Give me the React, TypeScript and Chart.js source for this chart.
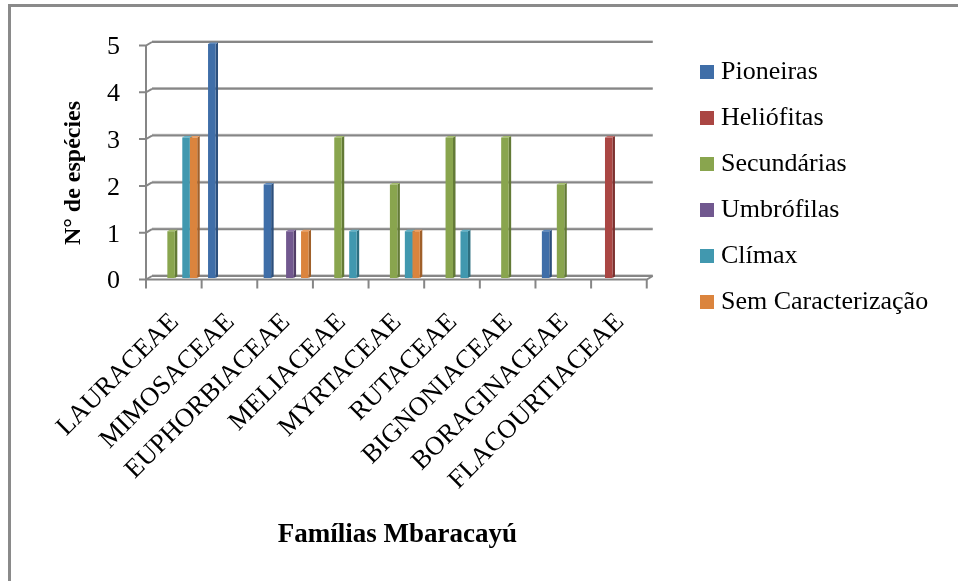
import React, { useEffect, useRef } from "react";
import { Chart, registerables } from "chart.js";

Chart.register(...registerables);

const families = ["LAURACEAE", "MIMOSACEAE", "EUPHORBIACEAE", "MELIACEAE", "MYRTACEAE", "RUTACEAE", "BIGNONIACEAE", "BORAGINACEAE", "FLACOURTIACEAE"];
const pioneiras = [0, 5, 2, 0, 0, 0, 0, 1, 0];
const heliofitas = [0, 0, 0, 0, 0, 0, 0, 0, 3];
const secundarias = [1, 0, 0, 3, 2, 3, 3, 2, 0];
const umbrofilas = [0, 0, 1, 0, 0, 0, 0, 0, 0];
const climax = [3, 0, 0, 1, 1, 1, 0, 0, 0];
const semCaracterizacao = [3, 0, 1, 0, 1, 0, 0, 0, 0];
const seriesNames = ["Pioneiras", "Heliófitas", "Secundárias", "Umbrófilas", "Clímax", "Sem Caracterização"];
const seriesValues = [pioneiras, heliofitas, secundarias, umbrofilas, climax, semCaracterizacao];
const fronts = ["#3F6EA8", "#AA4643", "#89A54E", "#71588F", "#4198AF", "#DB843D"];
const sides = ["#2C4F7C", "#7C302E", "#637A36", "#513E68", "#2D6F80", "#A0602A"];
const caps = ["#5F8ABD", "#C26A67", "#A3BC6C", "#8F77AB", "#63B2C8", "#EBA066"];
const FONT = "'Liberation Serif', serif";

const chrome = {
  id: "chrome",
  afterLayout(chart: any) {
    if (chart.legend) {
      chart.legend.left = 686;
      chart.legend.right = 958;
      chart.legend.top = 39;
    }
  },
  beforeDraw(chart: any) {
    const { ctx, width, height } = chart;
    ctx.save();
    ctx.fillStyle = "#fff";
    ctx.fillRect(0, 0, width, height);
    ctx.fillStyle = "#8a8a8a";
    ctx.fillRect(8, 4, width - 8, 3);
    ctx.fillRect(8, 4, 3, height - 4);
    ctx.restore();
    chart.scales.y.getLabelItems().forEach((item: any) => {
      item.options.translation[1] += 3.5;
    });
  },
  beforeDatasetsDraw(chart: any) {
    const { ctx, scales } = chart;
    const xs = scales.x;
    const ys = scales.y;
    const left = xs.left - 1;
    const right = xs.right - 1;
    const dx = 6;
    const axisY = (v: number) => ys.getPixelForValue(v) + 1.5;
    const wallY = (v: number) => ys.getPixelForValue(v) - 2;
    ctx.save();
    ctx.lineCap = "butt";
    const strokeLine = (pts: number[][], color: string, w: number) => {
      ctx.strokeStyle = color;
      ctx.lineWidth = w;
      ctx.beginPath();
      pts.forEach((p, i) => (i ? ctx.lineTo(p[0], p[1]) : ctx.moveTo(p[0], p[1])));
      ctx.stroke();
    };
    for (const t of ys.ticks) {
      const v = t.value;
      strokeLine([[left + dx, wallY(v) - 1], [right + dx, wallY(v) - 1]], "#c4c4c4", 1.5);
      strokeLine([[left + dx, wallY(v)], [right + dx, wallY(v)]], "#868686", 2);
      strokeLine([[left - 7, axisY(v)], [left, axisY(v)], [left + dx, wallY(v)]], "#868686", 2);
    }
    strokeLine([[left, axisY(0)], [right, axisY(0)], [right + dx, wallY(0)]], "#868686", 2);
    strokeLine([[left, axisY(5)], [left, axisY(0)]], "#868686", 2);
    for (let i = 0; i <= families.length; i++) {
      const x = left + ((right - left) * i) / families.length;
      strokeLine([[x, axisY(0)], [x, axisY(0) + 9]], "#868686", 2);
    }
    chart.data.datasets.forEach((_: any, di: number) => {
      chart.getDatasetMeta(di).data.forEach((el: any, i: number) => {
        if (!seriesValues[di][i]) return;
        const { x, y, base, width } = el.getProps(["x", "y", "base", "width"], true);
        const r = x + width / 2;
        const l = x - width / 2;
        ctx.fillStyle = sides[di];
        ctx.beginPath();
        ctx.moveTo(r, y);
        ctx.lineTo(r + 2.5, y - 1.5);
        ctx.lineTo(r + 2.5, base - 1.5);
        ctx.lineTo(r, base);
        ctx.closePath();
        ctx.fill();
        ctx.fillStyle = caps[di];
        ctx.beginPath();
        ctx.moveTo(l, y);
        ctx.lineTo(l + 2.5, y - 1.5);
        ctx.lineTo(r + 2.5, y - 1.5);
        ctx.lineTo(r, y);
        ctx.closePath();
        ctx.fill();
      });
    });
    ctx.restore();
  },
};

export default function App() {
  const ref = useRef<HTMLCanvasElement>(null);
  useEffect(() => {
    const chart = new Chart(ref.current as HTMLCanvasElement, {
      type: "bar",
      data: {
        labels: families,
        datasets: seriesNames.map((name, i) => ({
          label: name,
          data: seriesValues[i],
          backgroundColor: fronts[i],
          categoryPercentage: 0.806,
          barPercentage: 1,
        })),
      },
      plugins: [chrome],
      options: {
        animation: false,
        responsive: false,
        layout: { padding: { left: 59, top: 44, right: 114, bottom: 30 } },
        plugins: {
          tooltip: { enabled: false },
          legend: {
            position: "right",
            align: "start",
            labels: {
              boxWidth: 2,
              boxHeight: 2,
              padding: 20,
              color: "#000",
              font: { family: FONT, size: 26 },
              generateLabels(c: any) {
                return seriesNames.map((text, i) => ({
                  text,
                  fillStyle: fronts[i],
                  strokeStyle: fronts[i],
                  lineWidth: 12,
                  datasetIndex: i,
                  fontColor: "#000",
                }));
              },
            },
          },
        },
        scales: {
          x: {
            grid: { display: false },
            border: { display: false },
            ticks: {
              color: "#000",
              font: { family: FONT, size: 26.5 },
              minRotation: 45,
              maxRotation: 45,
              autoSkip: false,
              padding: 21,
            },
            title: {
              display: true,
              text: "Famílias Mbaracayú",
              color: "#000",
              font: { family: FONT, size: 27, weight: "bold" },
              padding: 0,
            },
            afterFit(scale: any) {
              scale.height = 273;
            },
          },
          y: {
            min: 0,
            max: 5,
            grid: { display: false },
            border: { display: false },
            ticks: {
              stepSize: 1,
              color: "#000",
              font: { family: FONT, size: 26 },
              padding: 19,
            },
            title: {
              display: true,
              text: "N° de espécies    ",
              color: "#000",
              font: { family: FONT, size: 24, weight: "bold" },
              padding: 0,
            },
            afterFit(scale: any) {
              scale.width = 88;
            },
          },
        },
      },
    } as any);
    return () => chart.destroy();
  }, []);
  return (
    <canvas
      ref={ref}
      width={958}
      height={581}
      style={{ position: "fixed", left: 0, top: 0, display: "block", width: 958, height: 581, filter: "blur(0.4px)" }}
    />
  );
}
